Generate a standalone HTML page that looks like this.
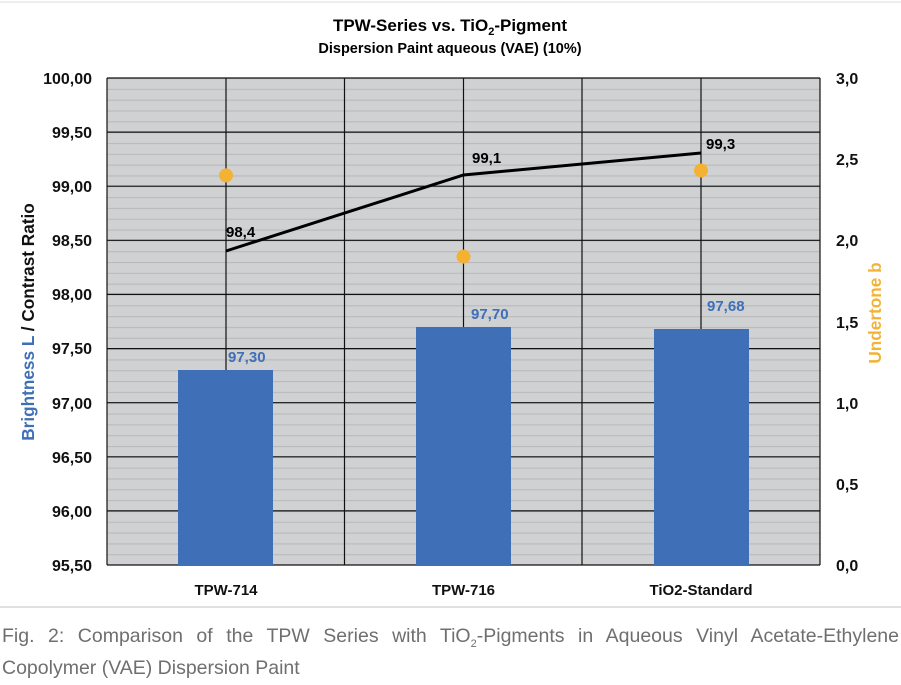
<!DOCTYPE html>
<html><head><meta charset="utf-8"><style>
body{margin:0;background:#fff;width:901px;height:685px;overflow:hidden;font-family:"Liberation Sans",sans-serif}
.cap{position:absolute;left:2px;top:624px;width:897px;font-size:19.5px;line-height:24px;color:#6f6f6f;text-align:justify;text-align-last:left}
</style></head><body>
<svg width="901" height="685" style="position:absolute;left:0;top:0" font-family="Liberation Sans, sans-serif">
<defs><pattern id="g" patternUnits="userSpaceOnUse" x="0" y="78" width="10" height="10.822">
<rect width="10" height="10.822" fill="#d0d1d3"/><line x1="0" y1="0.5" x2="10" y2="0.5" stroke="#b9babc" stroke-width="1.2"/></pattern></defs>
<line x1="0" y1="2" x2="901" y2="2" stroke="#ddd"/>
<rect x="107" y="78" width="713" height="487" fill="url(#g)"/>
<g stroke="#111" stroke-width="1.2">
<line x1="107" y1="78" x2="820" y2="78"/><line x1="107" y1="132.1" x2="820" y2="132.1"/><line x1="107" y1="186.2" x2="820" y2="186.2"/><line x1="107" y1="240.3" x2="820" y2="240.3"/><line x1="107" y1="294.4" x2="820" y2="294.4"/><line x1="107" y1="348.6" x2="820" y2="348.6"/><line x1="107" y1="402.7" x2="820" y2="402.7"/><line x1="107" y1="456.8" x2="820" y2="456.8"/><line x1="107" y1="510.9" x2="820" y2="510.9"/>
<line x1="226" y1="78" x2="226" y2="565"/><line x1="344.5" y1="78" x2="344.5" y2="565"/><line x1="463.5" y1="78" x2="463.5" y2="565"/><line x1="582" y1="78" x2="582" y2="565"/><line x1="701" y1="78" x2="701" y2="565"/>
<line x1="107" y1="78" x2="107" y2="565"/><line x1="820" y1="78" x2="820" y2="565"/><line x1="107" y1="565" x2="820" y2="565"/>
</g>
<g fill="#3e6fb7"><rect x="178" y="370" width="95" height="195"/><rect x="416" y="327" width="95" height="238"/><rect x="654" y="329" width="95" height="236"/></g>
<polyline points="226,251 463.5,175 701,153" fill="none" stroke="#000" stroke-width="3"/>
<g fill="#f4b233"><circle cx="226" cy="175.4" r="7"/><circle cx="463.5" cy="256.6" r="7"/><circle cx="701" cy="170.5" r="7"/></g>
<g font-size="15" font-weight="bold" fill="#3e6fb7"><text x="228" y="362">97,30</text><text x="471" y="319">97,70</text><text x="707" y="311">97,68</text></g>
<g font-size="15" font-weight="bold" fill="#000"><text x="226" y="237">98,4</text><text x="472" y="163">99,1</text><text x="706" y="149">99,3</text></g>
<g font-size="16" font-weight="bold" fill="#111" text-anchor="end">
<text x="92" y="84">100,00</text><text x="92" y="138">99,50</text><text x="92" y="192">99,00</text><text x="92" y="246">98,50</text><text x="92" y="300">98,00</text><text x="92" y="354">97,50</text><text x="92" y="409">97,00</text><text x="92" y="463">96,50</text><text x="92" y="517">96,00</text><text x="92" y="571">95,50</text></g>
<g font-size="16" font-weight="bold" fill="#111">
<text x="836" y="84">3,0</text><text x="836" y="165">2,5</text><text x="836" y="246">2,0</text><text x="836" y="328">1,5</text><text x="836" y="409">1,0</text><text x="836" y="490">0,5</text><text x="836" y="571">0,0</text></g>
<g font-size="15" font-weight="bold" fill="#111" text-anchor="middle">
<text x="226" y="595">TPW-714</text><text x="463.5" y="595">TPW-716</text><text x="701" y="595">TiO2-Standard</text></g>
<text x="450" y="31" text-anchor="middle" font-size="17" font-weight="bold">TPW-Series vs. TiO<tspan font-size="11" dy="4">2</tspan><tspan dy="-4">-Pigment</tspan></text>
<text x="450" y="53" text-anchor="middle" font-size="14.5" font-weight="bold">Dispersion Paint aqueous (VAE) (10%)</text>
<text transform="translate(34,322) rotate(-90)" text-anchor="middle" font-size="17.2" font-weight="bold"><tspan fill="#3e6fb7">Brightness L</tspan><tspan fill="#111"> / Contrast Ratio</tspan></text>
<text transform="translate(881,313) rotate(-90)" text-anchor="middle" font-size="17.2" font-weight="bold" fill="#f4b233">Undertone b</text>
<line x1="0" y1="607" x2="901" y2="607" stroke="#d6d6d6" stroke-width="1.5"/>
</svg>
<div class="cap">Fig. 2: Comparison of the TPW Series with TiO<sub style="font-size:11px">2</sub>-Pigments in Aqueous Vinyl Acetate-Ethylene Copolymer (VAE) Dispersion Paint</div>
</body></html>
